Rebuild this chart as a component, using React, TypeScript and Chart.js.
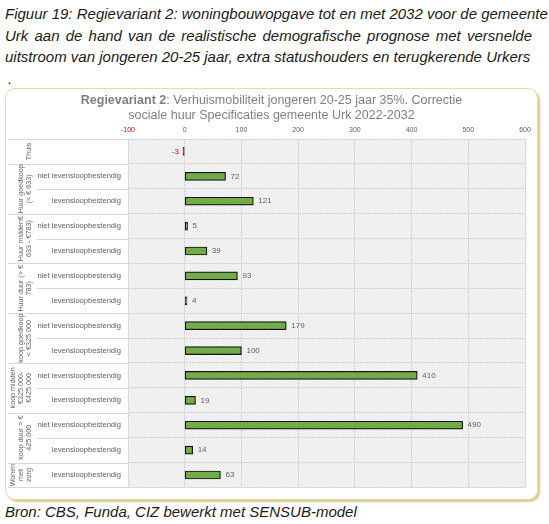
import React, { useEffect, useRef } from 'react';
import { Chart, registerables } from 'chart.js';

Chart.register(...registerables);

// sub-labels per row (empty for "Thuis")
const rowLabels = [
  '',
  'niet levensloopbestendig',
  'levensloopbestendig',
  'niet levensloopbestendig',
  'levensloopbestendig',
  'niet levensloopbestendig',
  'levensloopbestendig',
  'niet levensloopbestendig',
  'levensloopbestendig',
  'niet levensloopbestendig',
  'levensloopbestendig',
  'niet levensloopbestendig',
  'levensloopbestendig',
  'levensloopbestendig',
];

const groupLabels = [
  ['Thuis'],
  ['Huur goedkoop', '(< € 633)'],
  ['Huur midden€', '633 - €783)'],
  ['Huur duur (> €', '783)'],
  ['koop goedkoop', '< €325.000'],
  ['koop midden', '€325.000-', '€425.000'],
  ['koop duur > €', '425.000'],
  ['Wonen', 'met', 'zorg'],
];
const groupSizes = [1, 2, 2, 2, 2, 2, 2, 1];

const values = [-3, 72, 121, 5, 39, 93, 4, 179, 100, 410, 19, 490, 14, 63];

const xMin = -100;
const xMax = 600;
const xStep = 100;

const GRAY = '#606060';
const GRID = '#d9d9d9';
const RED = '#e00000';

function makePattern(ctx: CanvasRenderingContext2D) {
  const c = document.createElement('canvas');
  c.width = 3;
  c.height = 3;
  const p = c.getContext('2d')!;
  p.fillStyle = '#f6f6f6';
  p.fillRect(0, 0, 3, 3);
  p.fillStyle = '#e4e4e4';
  p.fillRect(0, 2, 1, 1);
  p.fillRect(1, 1, 1, 1);
  p.fillRect(2, 0, 1, 1);
  return ctx.createPattern(c, 'repeat');
}

const plotBackground = {
  id: 'plotBackground',
  beforeDraw(chart: any) {
    const { ctx, chartArea } = chart;
    ctx.save();
    ctx.fillStyle = makePattern(ctx) || '#f2f2f2';
    ctx.fillRect(chartArea.left, chartArea.top, chartArea.right - chartArea.left, chartArea.bottom - chartArea.top);
    ctx.restore();
  },
};

const groupAxis = {
  id: 'groupAxis',
  afterDraw(chart: any) {
    const { ctx, chartArea } = chart;
    const y = chart.scales.y;
    ctx.save();
    ctx.strokeStyle = GRID;
    ctx.lineWidth = 1;
    const groupEdges = [0];
    groupSizes.forEach((n) => groupEdges.push(groupEdges[groupEdges.length - 1] + n));
    for (let b = 0; b <= rowLabels.length; b++) {
      const py = Math.round(y.getPixelForValue(b - 0.5)) + 0.5;
      const x0 = groupEdges.includes(b) ? 2 : 31;
      ctx.beginPath();
      ctx.moveTo(x0, py);
      ctx.lineTo(chartArea.left, py);
      ctx.stroke();
    }
    // rotated group labels
    ctx.fillStyle = GRAY;
    ctx.font = '7.2px "Liberation Sans", Arial, sans-serif';
    ctx.textAlign = 'center';
    ctx.textBaseline = 'middle';
    groupLabels.forEach((lines, g) => {
      const start = groupEdges[g];
      const cy = y.getPixelForValue(start + (groupSizes[g] - 1) / 2);
      const lastX = 23.5;
      lines.forEach((line, k) => {
        const px = lastX - (lines.length - 1 - k) * 8;
        ctx.save();
        ctx.translate(px, cy);
        ctx.rotate(-Math.PI / 2);
        ctx.fillText(line, 0, 0);
        ctx.restore();
      });
    });
    ctx.restore();
  },
};

const valueLabels = {
  id: 'valueLabels',
  afterDatasetsDraw(chart: any) {
    const { ctx } = chart;
    const meta = chart.getDatasetMeta(0);
    ctx.save();
    ctx.font = '8px "Liberation Sans", Arial, sans-serif';
    ctx.textBaseline = 'middle';
    meta.data.forEach((el: any, i: number) => {
      const v = values[i];
      if (v < 0) {
        ctx.fillStyle = RED;
        ctx.textAlign = 'right';
        ctx.fillText(String(v), el.x - 4, el.y);
      } else {
        ctx.fillStyle = GRAY;
        ctx.textAlign = 'left';
        ctx.fillText(String(v), el.x + 5, el.y);
      }
    });
    ctx.restore();
  },
};

function BarChart() {
  const canvasRef = useRef<HTMLCanvasElement>(null);

  useEffect(() => {
    if (!canvasRef.current) return;
    const chart = new Chart(canvasRef.current, {
      type: 'bar',
      data: {
        labels: rowLabels,
        datasets: [
          {
            data: values,
            backgroundColor: values.map((v) => (v < 0 ? '#c00000' : '#70ad47')),
            borderColor: values.map((v) => (v < 0 ? '#7a0000' : '#111111')),
            borderWidth: 1.2,
            borderSkipped: false,
            barThickness: 8,
          },
        ],
      },
      options: {
        indexAxis: 'y',
        animation: false,
        responsive: true,
        maintainAspectRatio: false,
        layout: { padding: { left: 0, top: 0, right: 12, bottom: 10 } },
        plugins: {
          legend: { display: false },
          tooltip: { enabled: false },
          title: { display: false },
        },
        scales: {
          x: {
            position: 'top',
            min: xMin,
            max: xMax,
            afterFit: (axis: any) => {
              axis.height = 50;
            },
            grid: { color: GRID, drawTicks: false },
            border: { display: false },
            ticks: {
              stepSize: xStep,
              padding: 5,
              font: { family: '"Liberation Sans", Arial, sans-serif', size: 7 },
              color: (c: any) => (c.tick && c.tick.value < 0 ? RED : GRAY),
            },
          },
          y: {
            afterFit: (axis: any) => {
              axis.width = 122;
            },
            grid: { color: GRID, offset: true, drawTicks: false },
            border: { display: true, color: GRID },
            ticks: {
              padding: 7,
              font: { family: '"Liberation Sans", Arial, sans-serif', size: 7.6 },
              color: GRAY,
            },
          },
        },
      },
      plugins: [plotBackground, groupAxis, valueLabels],
    });
    return () => chart.destroy();
  }, []);

  return <canvas ref={canvasRef}></canvas>;
}

const captionLine: React.CSSProperties = {
  height: 21.5,
  lineHeight: '21.5px',
  whiteSpace: 'nowrap',
};

export default function App() {
  useEffect(() => {
    document.body.style.margin = '0';
  }, []);

  return (
    <div
      style={{
        position: 'relative',
        width: 549,
        height: 524,
        background: '#fff',
        fontFamily: '"Liberation Sans", Arial, sans-serif',
        overflow: 'hidden',
      }}
    >
      <div
        style={{
          position: 'absolute',
          left: 5,
          top: 3,
          width: 527,
          fontSize: 15,
          fontStyle: 'italic',
          color: '#1a1a1a',
        }}
      >
        <div style={{ ...captionLine, textAlign: 'justify', textAlignLast: 'justify' }}>
          Figuur 19: Regievariant 2: woningbouwopgave tot en met 2032 voor de gemeente
        </div>
        <div style={{ ...captionLine, textAlign: 'justify', textAlignLast: 'justify' }}>
          Urk aan de hand van de realistische demografische prognose met versnelde
        </div>
        <div style={captionLine}>
          uitstroom van jongeren 20-25 jaar, extra statushouders en terugkerende Urkers
        </div>
        <div style={{ ...captionLine, paddingLeft: 3 }}>.</div>
      </div>

      <div
        style={{
          position: 'absolute',
          left: 5,
          top: 88,
          width: 533,
          height: 412,
          boxSizing: 'border-box',
          border: '1px solid #e8dba4',
          borderRadius: 10,
          boxShadow: '2px 2px 2px #d8c98c',
          background: '#fff',
        }}
      >
        <div
          style={{
            position: 'absolute',
            left: 0,
            top: 4,
            width: 531,
            textAlign: 'center',
            fontSize: 12.5,
            lineHeight: '14.5px',
            color: '#7f7f7f',
            zIndex: 1,
          }}
        >
          <b>Regievariant 2</b>: Verhuismobiliteit jongeren 20-25 jaar 35%. Correctie
          <br />
          sociale huur Specificaties gemeente Urk 2022-2032
        </div>
        <div style={{ position: 'absolute', left: 0, top: 0, width: 531, height: 410 }}>
          <BarChart />
        </div>
      </div>

      <div
        style={{
          position: 'absolute',
          left: 5,
          top: 501,
          fontSize: 15,
          fontStyle: 'italic',
          lineHeight: '21px',
          color: '#1a1a1a',
          whiteSpace: 'nowrap',
        }}
      >
        Bron: CBS, Funda, CIZ bewerkt met SENSUB-model
      </div>
    </div>
  );
}
